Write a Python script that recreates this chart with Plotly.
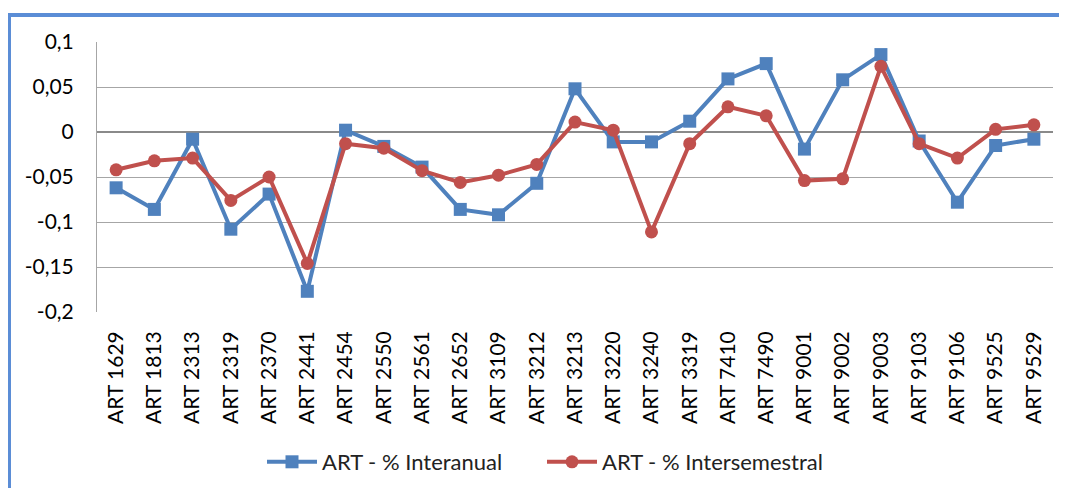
import plotly.graph_objects as go

categories = ["ART 1629", "ART 1813", "ART 2313", "ART 2319", "ART 2370", "ART 2441",
              "ART 2454", "ART 2550", "ART 2561", "ART 2652", "ART 3109", "ART 3212",
              "ART 3213", "ART 3220", "ART 3240", "ART 3319", "ART 7410", "ART 7490",
              "ART 9001", "ART 9002", "ART 9003", "ART 9103", "ART 9106", "ART 9525",
              "ART 9529"]

interanual = [-0.062, -0.086, -0.008, -0.108, -0.069, -0.177,
              0.002, -0.016, -0.039, -0.086, -0.092, -0.057,
              0.048, -0.011, -0.011, 0.012, 0.059, 0.076,
              -0.019, 0.058, 0.086, -0.010, -0.078, -0.015,
              -0.008]

intersemestral = [-0.042, -0.032, -0.029, -0.076, -0.050, -0.146,
                  -0.013, -0.018, -0.043, -0.056, -0.048, -0.036,
                  0.011, 0.002, -0.111, -0.013, 0.028, 0.018,
                  -0.054, -0.052, 0.073, -0.013, -0.029, 0.003,
                  0.008]

y_tickvals = [0.1, 0.05, 0, -0.05, -0.1, -0.15, -0.2]
y_ticktext = ["0,1", "0,05", "0", "-0,05", "-0,1", "-0,15", "-0,2"]

FONT = "Lato"
BLUE = "#4F81BD"
RED = "#C0504D"

# page body has an 8px default margin: work in window pixels, convert
OFF = 8
FIG_W, FIG_H = 1067 - OFF, 488 - OFF
L, R, T, B = 97 - OFF, 1053 - OFF, 42 - OFF, 312 - OFF
W, H = R - L, B - T
def px_x(p):
    return (p - OFF - L) / W
def px_y(p):
    return (B - (p - OFF)) / H

fig = go.Figure()
fig.add_trace(go.Scatter(
    x=categories, y=interanual, name="ART - % Interanual",
    mode="lines+markers",
    line=dict(color=BLUE, width=4),
    marker=dict(symbol="square", size=13, color=BLUE),
))
fig.add_trace(go.Scatter(
    x=categories, y=intersemestral, name="ART - % Intersemestral",
    mode="lines+markers",
    line=dict(color=RED, width=4),
    marker=dict(symbol="circle", size=13, color=RED),
))

# outer blue frame (clipped by window on right and bottom)
fig.add_shape(type="rect", xref="paper", yref="paper",
              x0=px_x(9), x1=px_x(1090), y0=px_y(520), y1=px_y(15),
              line=dict(color="#5B8DD6", width=4), fillcolor="rgba(0,0,0,0)",
              layer="above")

fig.update_layout(
    width=FIG_W, height=FIG_H,
    margin=dict(l=L, r=FIG_W - R, t=T, b=FIG_H - B, autoexpand=False),
    paper_bgcolor="white", plot_bgcolor="white",
    font=dict(family=FONT, size=20, color="#000000"),
    separators=", ",
    showlegend=True,
    legend=dict(orientation="h", x=px_x(262), y=px_y(462), xanchor="left", yanchor="middle",
                font=dict(family=FONT, size=22, color="#222222"),
                itemwidth=50, tracegroupgap=0,
                entrywidth=215, entrywidthmode="pixels"),
    xaxis=dict(
        type="category", tickangle=-90, showgrid=False, showline=False, automargin=False,
        ticks="", ticklabelstandoff=14, tickfont=dict(family=FONT, size=21),
        range=[-0.5, len(categories) - 0.5],
    ),
    yaxis=dict(
        range=[-0.2, 0.1], tickvals=y_tickvals, ticktext=y_ticktext, automargin=False,
        showgrid=True, gridcolor="#A6A6A6", gridwidth=1,
        zeroline=True, zerolinecolor="#8A8A8A", zerolinewidth=2,
        showline=True, linecolor="#A6A6A6", linewidth=1,
        ticks="", ticklabelstandoff=18, tickfont=dict(family=FONT, size=21),
    ),
)

fig.write_html("out.html")
